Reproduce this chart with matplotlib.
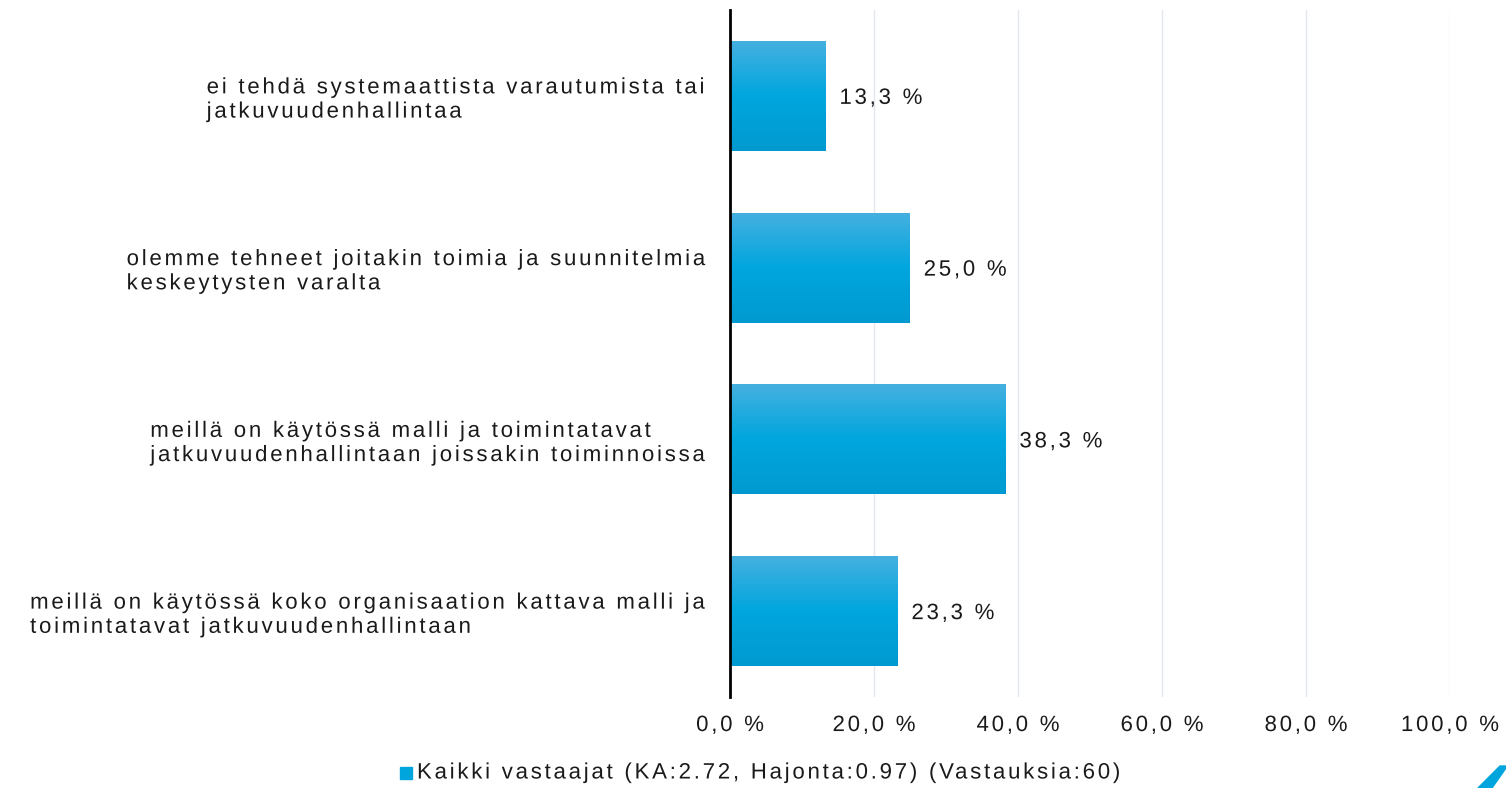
import numpy as np
import matplotlib.pyplot as plt
from matplotlib.patches import Polygon
from matplotlib.path import Path
from matplotlib.patheffects import AbstractPathEffect
from matplotlib.colors import LinearSegmentedColormap

plt.rcParams['font.family'] = ['Liberation Sans', 'DejaVu Sans']

categories = [
    "ei tehdä systemaattista varautumista tai\njatkuvuudenhallintaa",
    "olemme tehneet joitakin toimia ja suunnitelmia\nkeskeytysten varalta",
    "meillä on käytössä malli ja toimintatavat\njatkuvuudenhallintaan joissakin toiminnoissa",
    "meillä on käytössä koko organisaation kattava malli ja\ntoimintatavat jatkuvuudenhallintaan",
]
values = [13.3, 25.0, 38.3, 23.3]
xticks = [0, 20, 40, 60, 80, 100]
legend_label = "Kaikki vastaajat (KA:2.72, Hajonta:0.97) (Vastauksia:60)"

FS = 16
TXT = '#1a1a1a'
TRACK = 12.4  # extra space per character, in text-path units (1 em = 100)


def fi(v):
    return f"{v:.1f}".replace(".", ",") + " %"


class Tracking(AbstractPathEffect):
    """letter spacing: move each glyph right by TRACK * its index in the line"""

    def __init__(self, track=TRACK, align='left', offset=0.0):
        super().__init__()
        self.track = track
        self.align = align
        self.offset = offset

    def draw_path(self, renderer, gc, tpath, affine, rgbFace=None):
        codes = tpath.codes
        verts = np.array(tpath.vertices, dtype=float)
        if codes is None or len(verts) == 0:
            renderer.draw_path(gc, tpath, affine, rgbFace)
            return
        real = codes != Path.CLOSEPOLY
        starts = list(np.flatnonzero(codes == Path.MOVETO)) + [len(verts)]
        segs = []
        for s, e in zip(starts[:-1], starts[1:]):
            xs = verts[s:e, 0][real[s:e]]
            if len(xs):
                segs.append((xs.min(), xs.max(), s, e))
        segs.sort()
        # group contours into glyphs by overlapping x range
        groups = []
        for x0, x1, s, e in segs:
            if groups and x0 < groups[-1][1] - 4:
                g = groups[-1]
                g[1] = max(g[1], x1)
                g[2].append((s, e))
            else:
                groups.append([x0, x1, [(s, e)]])
        idx = []
        n = 0
        for k, g in enumerate(groups):
            if k > 0 and g[0] - groups[k - 1][1] > 20:
                n += 1  # a space sits in the gap
            idx.append(n)
            n += 1
        if self.align == 'center':
            off = self.track * (n - 1) / 2
        elif self.align == 'right':
            off = self.track * (n - 1)
        else:
            off = self.offset
        for g, i in zip(groups, idx):
            for s, e in g[2]:
                verts[s:e, 0] += self.track * i - off
        renderer.draw_path(gc, Path(verts, codes), affine, rgbFace)


fig = plt.figure(figsize=(15.06, 7.88), dpi=100)
ax = fig.add_axes([730 / 1506, 1 - 697 / 788, 720 / 1506, 687 / 788])

y = np.arange(len(categories))
bars = ax.barh(y, values, height=0.64, color='#00a5de', zorder=2)

# vertical gradient in each bar, lighter at the top
grad = np.linspace(0, 1, 256).reshape(-1, 1)
cmap = LinearSegmentedColormap.from_list('g', ['#009ad0', '#00a6de', '#45b0e0'])
for b in bars:
    x0, y0 = b.get_x(), b.get_y()
    w, h = b.get_width(), b.get_height()
    im = ax.imshow(grad, cmap=cmap, aspect='auto', extent=[x0, x0 + w, y0 + h, y0],
                   origin='lower', zorder=3)
    im.set_clip_path(b)

for yi, v in zip(y, values):
    t = ax.text(v + 1.9, yi, fi(v), va='center_baseline', ha='left', fontsize=FS, color=TXT)
    t.set_path_effects([Tracking()])

ax.set_xlim(0, 100)
ax.set_ylim(len(categories) - 0.5, -0.5)
ax.set_xticks(xticks)
ax.set_xticklabels([fi(t) for t in xticks], fontsize=FS, color=TXT)
for t in ax.get_xticklabels():
    t.set_path_effects([Tracking(align='center')])
ax.set_yticks(y)
ax.set_yticklabels(categories, fontsize=FS, color=TXT, ha='right', multialignment='left')
for t, cat in zip(ax.get_yticklabels(), categories):
    longest = max(len(line) for line in cat.split('\n'))
    t.set_path_effects([Tracking(offset=TRACK * (longest - 1))])
ax.tick_params(axis='y', length=0, pad=17)
ax.tick_params(axis='x', length=0, pad=13)
ax.grid(axis='x', color='#e3e8ef', linewidth=1, zorder=0)
ax.set_axisbelow(True)
for s in ['top', 'right', 'bottom']:
    ax.spines[s].set_visible(False)
ax.spines['left'].set_linewidth(2)
ax.spines['left'].set_color('black')
ax.spines['left'].set_zorder(5)

# legend
fig.patches.append(plt.Rectangle((400 / 1506, 1 - 779 / 788), 12 / 1506, 12 / 788,
                                 transform=fig.transFigure, color='#00a5de'))
lt = fig.text(417 / 1506, 1 - 773 / 788, legend_label, fontsize=FS, va='center', ha='left',
              color=TXT)
lt.set_path_effects([Tracking()])

# logo fragment in corner
fig.patches.append(Polygon([(1478 / 1506, 0), (1492 / 1506, 0), (1506 / 1506, 20 / 788),
                            (1506 / 1506, 22 / 788), (1500 / 1506, 22 / 788)],
                           closed=True, transform=fig.transFigure, color='#00a5de'))

fig.savefig('out.png', dpi=100)
